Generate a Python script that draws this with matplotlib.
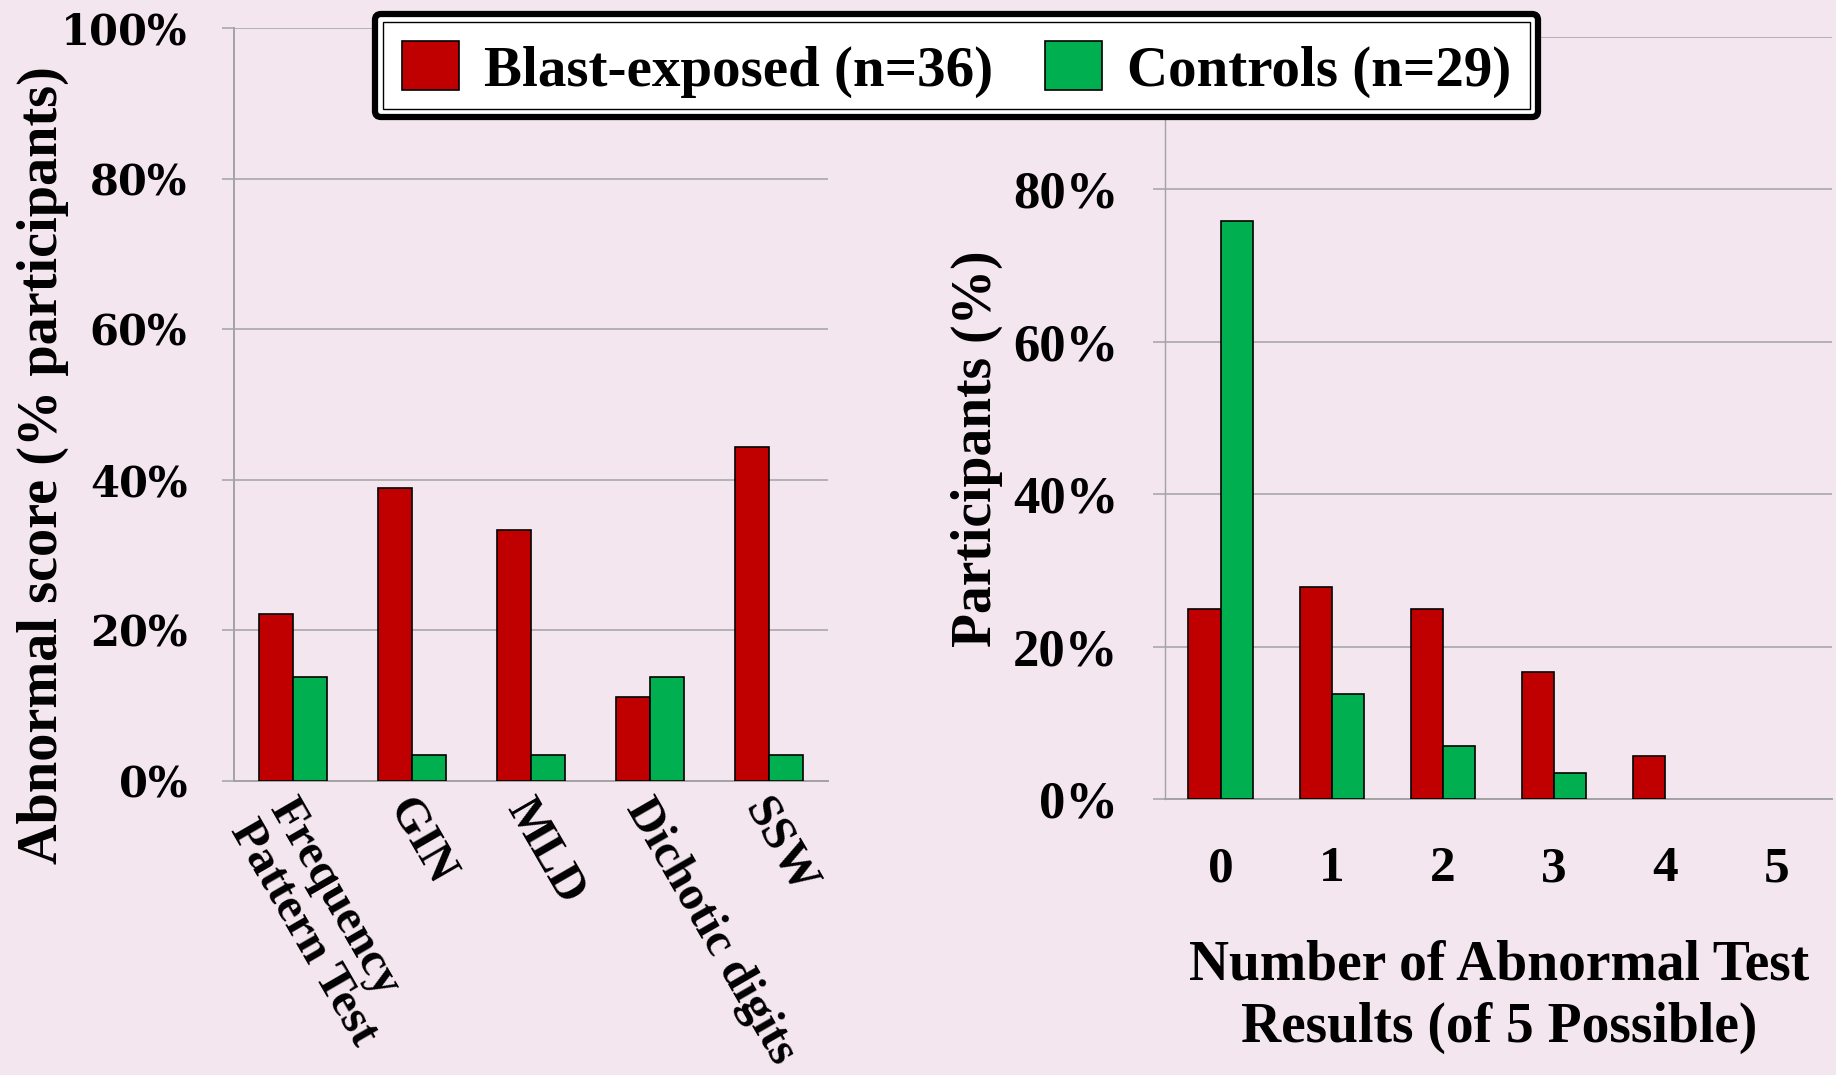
import numpy as np
import matplotlib.pyplot as plt
from matplotlib.patches import FancyBboxPatch, Rectangle
from matplotlib.ticker import PercentFormatter
from matplotlib.transforms import IdentityTransform, ScaledTranslation

# ---- data (percent of participants) ----
tests = ["Frequency\nPattern Test", "GIN", "MLD", "Dichotic digits", "SSW"]
blast_abnormal = [22.2, 38.9, 33.3, 11.1, 44.4]
control_abnormal = [13.8, 3.4, 3.4, 13.8, 3.4]

n_abnormal = ["0", "1", "2", "3", "4", "5"]
blast_by_count = [25.0, 27.8, 25.0, 16.7, 5.6, 0.0]
control_by_count = [75.9, 13.8, 6.9, 3.4, 0.0, 0.0]

legend_labels = ["Blast-exposed (n=36)", "Controls (n=29)"]

RED = "#C00000"
GREEN = "#00B050"
BG = "#F3E6EE"
GRID = "#A3A3A3"
SERIF = "Liberation Serif"

W, H = 1836, 1075
fig = plt.figure(figsize=(W / 100, H / 100), dpi=100, facecolor=BG)


def style_axis(ax, tick_font, tick_size):
    ax.set_facecolor(BG)
    for s in ["top", "right"]:
        ax.spines[s].set_visible(False)
    ax.spines["left"].set_color(GRID)
    ax.spines["left"].set_linewidth(1.4)
    ax.spines["bottom"].set_color(GRID)
    ax.spines["bottom"].set_linewidth(1.4)
    ax.set_ylim(0, 100)
    ax.set_yticks(np.arange(0, 101, 20))
    ax.yaxis.set_major_formatter(PercentFormatter(decimals=0))
    ax.grid(axis="y", color=GRID, lw=1.1, zorder=0)
    ax.set_axisbelow(True)
    ax.tick_params(axis="y", direction="out", length=8.6, width=1.1,
                   color=GRID, pad=25)
    for lab in ax.get_yticklabels():
        lab.set_fontfamily(tick_font)
        lab.set_fontweight("bold")
        lab.set_fontsize(tick_size)


def pair_bars(ax, x, a, b, w):
    lw_a = [1.2 if v > 0 else 0 for v in a]
    lw_b = [1.2 if v > 0 else 0 for v in b]
    ba = ax.bar(x - w / 2, a, w, color=RED, edgecolor="black", linewidth=lw_a, zorder=3)
    bb = ax.bar(x + w / 2, b, w, color=GREEN, edgecolor="black", linewidth=lw_b, zorder=3)
    return ba, bb


# ---- left panel: abnormal score per test ----
ax1 = fig.add_axes([234 / W, 1 - 781 / H, 594 / W, 753 / H])
x1 = np.arange(len(tests))
hb, hc = pair_bars(ax1, x1, blast_abnormal, control_abnormal, 0.287)
ax1.set_xlim(-0.5, len(tests) - 0.5)
style_axis(ax1, "DejaVu Serif", 30)
ax1.set_xticks(x1)
ax1.set_xticklabels(tests, rotation=-60, rotation_mode="anchor", ha="left",
                    va="top", fontfamily=SERIF, fontweight="bold",
                    fontsize=35, linespacing=1.02)
ax1.tick_params(axis="x", length=0, pad=7)
shift = ScaledTranslation(0.05, 0, fig.dpi_scale_trans)
for lab in ax1.get_xticklabels():
    lab.set_transform(lab.get_transform() + shift)

# ---- right panel: number of abnormal tests ----
ax2 = fig.add_axes([1165 / W, 1 - 799 / H, 667 / W, 762 / H])
x2 = np.arange(len(n_abnormal))
pair_bars(ax2, x2, blast_by_count, control_by_count, 0.29)
ax2.set_xlim(-0.5, len(n_abnormal) - 0.5)
style_axis(ax2, SERIF, 38)
ax2.spines["left"].set_linewidth(1.0)
ax2.set_xticks(x2)
ax2.set_xticklabels(n_abnormal, fontfamily=SERIF, fontweight="bold", fontsize=37)
ax2.tick_params(axis="x", length=0, pad=34)

# axis titles
fig.text(43 / W, 1 - 465 / H, "Abnormal score (% participants)", rotation=90,
         ha="center", va="center", fontfamily=SERIF, fontweight="bold", fontsize=40.5)
fig.text(977 / W, 1 - 449 / H, "Participants (%)", rotation=90,
         ha="center", va="center", fontfamily=SERIF, fontweight="bold", fontsize=40)
fig.text(1499 / W, 1 - 997 / H, "Number of Abnormal Test\nResults (of 5 Possible)",
         ha="center", va="center", fontfamily=SERIF, fontweight="bold",
         fontsize=40, linespacing=1.25)

# ---- legend with double border ----
lx0, ly0, lw_, lh_ = 375, H - 117, 1163, 103
outer = FancyBboxPatch((lx0, ly0), lw_, lh_, boxstyle="round,pad=0,rounding_size=6",
                       transform=IdentityTransform(), facecolor="white",
                       edgecolor="black", linewidth=4.5, zorder=4)
inner = Rectangle((lx0 + 8, ly0 + 8), lw_ - 16, lh_ - 16, transform=IdentityTransform(),
                  fill=False, edgecolor="black", linewidth=1.0, zorder=4)
fig.add_artist(outer)
fig.add_artist(inner)
leg = fig.legend([hb, hc], legend_labels, loc="center",
                 bbox_to_anchor=((lx0 + lw_ / 2) / W, (ly0 + lh_ / 2 - 4) / H),
                 ncol=2, frameon=False, handlelength=1.0, handleheight=0.95,
                 handletextpad=0.45, columnspacing=0.9,
                 prop={"family": SERIF, "weight": "bold", "size": 41})
leg.set_zorder(5)

fig.savefig("out.png", dpi=100, facecolor=BG)
